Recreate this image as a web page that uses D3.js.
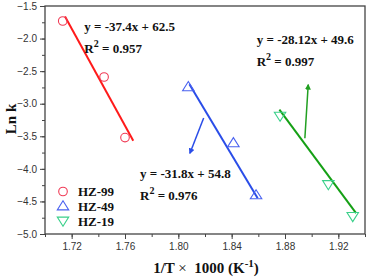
<!DOCTYPE html>
<html><head><meta charset="utf-8">
<script src="https://cdn.jsdelivr.net/npm/d3@7"></script>
<style>body{margin:0;background:#fff}svg{display:block}</style>
</head><body>
<script>
// Data
const xTicks = [1.72, 1.76, 1.80, 1.84, 1.88, 1.92];
const yTicks = [-1.5, -2.0, -2.5, -3.0, -3.5, -4.0, -4.5, -5.0];
const seriesNames = ["HZ-99", "HZ-49", "HZ-19"];
const hz99 = [[1.7133, -1.73], [1.7443, -2.59], [1.7600, -3.52]];
const hz49 = [[1.8075, -2.74], [1.8413, -3.60], [1.8583, -4.40]];
const hz19 = [[1.8763, -3.19], [1.9125, -4.24], [1.9308, -4.73]];
const fit99 = [[1.7150, -1.66], [1.7662, -3.57]];
const fit49 = [[1.8083, -2.70], [1.8595, -4.45]];
const fit19 = [[1.8758, -3.09], [1.9333, -4.68]];
const arrow49 = [[1.8190, -3.22], [1.8087, -3.76]];
const arrow19 = [[1.8949, -3.53], [1.8974, -2.71]];
const eq99 = ["y = -37.4x + 62.5", "0.957"];
const eq49 = ["y = -31.8x + 54.8", "0.976"];
const eq19 = ["y = -28.12x + 49.6", "0.997"];
const eqPos99 = [1.7295, -1.89];
const eqPos49 = [1.7713, -4.14];
const eqPos19 = [1.8588, -2.076];

const W = 369, H = 278;
const m = {l:45, r:4, t:6, b:44};
const svg = d3.select("body").append("svg").attr("width", W).attr("height", H);
const x = d3.scaleLinear().domain([1.70, 1.94]).range([m.l, W - m.r]);
const y = d3.scaleLinear().domain([-5.0, -1.5]).range([H - m.b, m.t]);
const serif = "'Liberation Serif','Times New Roman',serif";
const sans = "'Liberation Sans',Arial,sans-serif";

const defs = svg.append("defs");
function marker(id, col){
  defs.append("marker").attr("id", id).attr("viewBox","0 0 10 10").attr("refX",8).attr("refY",5)
    .attr("markerWidth",4).attr("markerHeight",4).attr("orient","auto")
    .append("path").attr("d","M0,0 L10,5 L0,10 z").attr("fill", col);
}
marker("ab","#2a4de8"); marker("ag","#22a022");

// axes
const xMinor = d3.range(1.70, 1.9401, 0.02);
const yMinor = d3.range(-5.0, -1.499, 0.25);
const gx = svg.append("g").attr("transform", `translate(0,${H - m.b})`)
  .call(d3.axisBottom(x).tickValues(xMinor).tickSize(3).tickFormat(""));
const gx2 = svg.append("g").attr("transform", `translate(0,${H - m.b})`)
  .call(d3.axisBottom(x).tickValues(xTicks).tickSize(5).tickPadding(4).tickFormat(d3.format(".2f")));
const gy = svg.append("g").attr("transform", `translate(${m.l},0)`)
  .call(d3.axisLeft(y).tickValues(yMinor).tickSize(3).tickFormat(""));
const gy2 = svg.append("g").attr("transform", `translate(${m.l},0)`)
  .call(d3.axisLeft(y).tickValues(yTicks).tickSize(5).tickPadding(3).tickFormat(d3.format(".1f")));
[gx,gx2,gy,gy2].forEach(g=>{
  g.select(".domain").remove();
  g.selectAll("line").attr("stroke","#444").attr("stroke-width",1);
  g.selectAll("text").attr("font-family",sans).attr("font-size","10px").attr("fill","#333");
});
// frame
svg.append("rect").attr("x", m.l).attr("y", m.t).attr("width", W - m.r - m.l).attr("height", H - m.b - m.t)
  .attr("fill","none").attr("stroke","#444").attr("stroke-width",1.3);

const line = d3.line().x(d=>x(d[0])).y(d=>y(d[1]));
// fit lines
[[fit99,"#ff1a1a"],[fit49,"#2a4de8"],[fit19,"#15a015"]].forEach(([d,c])=>{
  svg.append("path").attr("d", line(d)).attr("stroke", c).attr("stroke-width",2).attr("fill","none");
});
// arrows
svg.append("path").attr("d", line(arrow49)).attr("stroke","#2a4de8").attr("stroke-width",1.5)
  .attr("fill","none").attr("marker-end","url(#ab)");
svg.append("path").attr("d", line(arrow19)).attr("stroke","#22a022").attr("stroke-width",1.5)
  .attr("fill","none").attr("marker-end","url(#ag)");

// markers
function tri(cx, cy, down){
  const s=5.2;
  if(!down) return `M${cx},${cy-s}L${cx+s*1.1},${cy+s*0.75}L${cx-s*1.1},${cy+s*0.75}Z`;
  return `M${cx},${cy+s}L${cx+s*1.1},${cy-s*0.75}L${cx-s*1.1},${cy-s*0.75}Z`;
}
svg.selectAll(".c99").data(hz99).enter().append("circle")
  .attr("cx",d=>x(d[0])).attr("cy",d=>y(d[1])).attr("r",4.3)
  .attr("fill","none").attr("stroke","#f03a55").attr("stroke-width",1.1);
svg.selectAll(".t49").data(hz49).enter().append("path")
  .attr("d",d=>tri(x(d[0]),y(d[1]),false))
  .attr("fill","none").attr("stroke","#4a62f0").attr("stroke-width",1.1);
svg.selectAll(".t19").data(hz19).enter().append("path")
  .attr("d",d=>tri(x(d[0]),y(d[1]),true))
  .attr("fill","none").attr("stroke","#3ad08a").attr("stroke-width",1.1);

// equations
function eq(pos, e){
  const px = x(pos[0]), py = y(pos[1]);
  svg.append("text").attr("x",px).attr("y",py).text(e[0])
    .attr("font-family",serif).attr("font-weight","bold").attr("font-size","13px").attr("fill","#111");
  const t = svg.append("text").attr("x",px).attr("y",py+22)
    .attr("font-family",serif).attr("font-weight","bold").attr("font-size","13px").attr("fill","#111");
  t.append("tspan").text("R");
  t.append("tspan").text("2").attr("font-size","10px").attr("dy","-6");
  t.append("tspan").text(" = " + e[1]).attr("dy","6");
}
eq(eqPos99, eq99); eq(eqPos49, eq49); eq(eqPos19, eq19);

// legend
const lx = 63, ly = [191.5, 206, 221];
svg.append("circle").attr("cx",lx).attr("cy",ly[0]).attr("r",4.3).attr("fill","none").attr("stroke","#f03a55").attr("stroke-width",1.1);
svg.append("path").attr("d",tri(lx,ly[1],false)).attr("fill","none").attr("stroke","#4a62f0").attr("stroke-width",1.1);
svg.append("path").attr("d",tri(lx,ly[2],true)).attr("fill","none").attr("stroke","#3ad08a").attr("stroke-width",1.1);
seriesNames.forEach((n,i)=>{
  svg.append("text").attr("x",78).attr("y",ly[i]+4.5).text(n)
    .attr("font-family",serif).attr("font-weight","bold").attr("font-size","13px").attr("fill","#111");
});

// axis titles
const xt = svg.append("text").attr("x",206).attr("y",273).attr("text-anchor","middle")
  .attr("font-family",serif).attr("font-weight","bold").attr("font-size","15px").attr("fill","#111");
xt.append("tspan").text("1/T ");
xt.append("tspan").text("×").attr("font-weight","normal");
xt.append("tspan").text("  1000 (K");
xt.append("tspan").text("-1").attr("font-size","11px").attr("dy","-6");
xt.append("tspan").text(")").attr("dy","6");
xt.attr("xml:space","preserve").style("white-space","pre");

svg.append("text").attr("transform","translate(16,119) rotate(-90)").attr("text-anchor","middle")
  .text("Ln k").attr("font-family",serif).attr("font-weight","bold").attr("font-size","15px").attr("fill","#111");
</script>
</body></html>
